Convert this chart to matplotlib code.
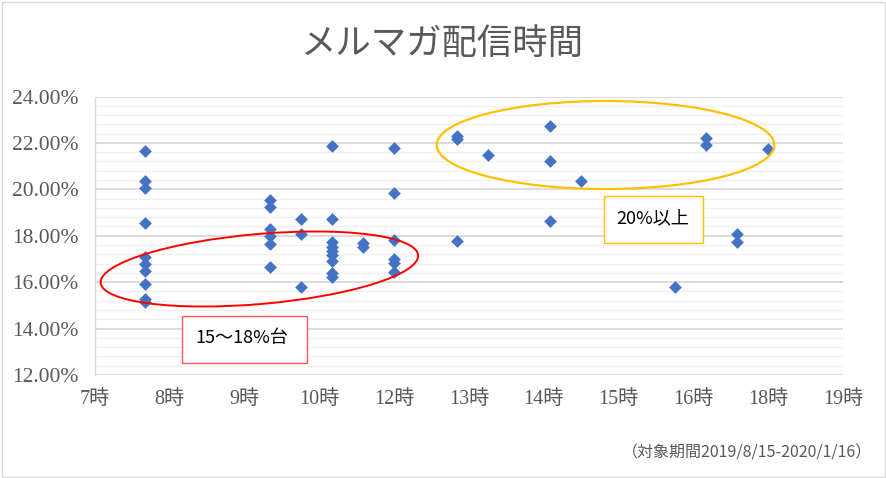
import matplotlib
matplotlib.use("Agg")
import matplotlib.pyplot as plt
from matplotlib.patches import Ellipse, Rectangle
from matplotlib.ticker import MultipleLocator, FuncFormatter, FixedLocator

plt.rcParams['font.family'] = ['Noto Sans CJK JP', 'DejaVu Sans']

title = "メルマガ配信時間"
footnote = "（対象期間2019/8/15-2020/1/16）"
note_low = "15～18%台"
note_high = "20%以上"

# x-axis tick positions (hours) and their labels as shown
tick_hours = [7.0, 8.2, 9.4, 10.6, 11.8, 13.0, 14.2, 15.4, 16.6, 17.8, 19.0]
tick_labels = ["7時", "8時", "9時", "10時", "12時", "13時", "14時", "15時", "16時", "18時", "19時"]

# delivery time (hours) and open rate (%)
send_hour = [7.8, 7.8, 7.8, 7.8, 7.8, 7.8, 7.8, 7.8, 7.8, 7.8,
             9.8, 9.8, 9.8, 9.8, 9.8, 9.8,
             10.3, 10.3, 10.3,
             10.8, 10.8, 10.8, 10.8, 10.8, 10.8, 10.8, 10.8, 10.8,
             11.3, 11.3,
             11.8, 11.8, 11.8, 11.8, 11.8, 11.8,
             12.8, 12.8, 12.8,
             13.3,
             14.3, 14.3, 14.3,
             14.8,
             16.3,
             16.8, 16.8,
             17.3, 17.3,
             17.8]
open_rate = [21.67, 20.37, 20.06, 18.57, 17.10, 16.78, 16.46, 15.90, 15.29, 15.16,
             19.52, 19.22, 18.29, 17.99, 17.63, 16.64,
             18.71, 18.07, 15.80,
             21.87, 18.72, 17.73, 17.51, 17.34, 17.15, 16.91, 16.38, 16.24,
             17.70, 17.50,
             21.79, 19.83, 17.81, 16.98, 16.82, 16.45,
             22.30, 22.18, 17.79,
             21.48,
             22.71, 21.22, 18.63,
             20.35,
             15.79,
             22.20, 21.91,
             18.07, 17.72,
             21.74]

W, H = 886, 478
fig = plt.figure(figsize=(W / 100, H / 100), dpi=100)

def px(x, y):
    return (x / 100.0, (H - y) / 100.0)

ax = fig.add_axes([95 / W, (H - 375) / H, (843 - 95) / W, (375 - 96.5) / H])
ax.set_xlim(7, 19)
ax.set_ylim(12, 24)

ax.yaxis.set_major_locator(MultipleLocator(2))
ax.yaxis.set_minor_locator(MultipleLocator(0.4))
ax.yaxis.set_major_formatter(FuncFormatter(lambda v, p: f"{v:.2f}%"))
ax.grid(which='minor', axis='y', color='#F0F0F0', lw=0.9, zorder=0)
ax.grid(which='major', axis='y', color='#D9D9D9', lw=1.3, zorder=0)
ax.set_axisbelow(True)

ax.xaxis.set_major_locator(FixedLocator(tick_hours))
ax.set_xticklabels(tick_labels)

for s in ['top', 'right', 'bottom']:
    ax.spines[s].set_visible(False)
ax.spines['left'].set_color('#D9D9D9')
ax.spines['left'].set_linewidth(1.0)

ax.tick_params(axis='both', which='both', length=0)
ax.tick_params(axis='y', pad=12, labelcolor='#595959')
ax.tick_params(axis='x', pad=11, labelcolor='#595959')
for lab in ax.get_yticklabels():
    lab.set_family(['Liberation Serif', 'Noto Sans CJK JP'])
    lab.set_fontsize(15.5)
for lab in ax.get_xticklabels():
    lab.set_family(['Liberation Serif', 'Noto Sans CJK JP'])
    lab.set_fontsize(14.5)

ax.scatter(send_hour, open_rate, marker='D', s=42, color='#4472C4', linewidths=0, zorder=3)

# title & footnote
fig.text(442 / W, (H - 45) / H, title, ha='center', va='center', fontsize=25.5, color='#595959')
fig.text(872 / W, (H - 453) / H, footnote, ha='right', va='center', fontsize=11.5, color='#595959')

# annotations (ellipses and boxes), in pixel space
t = fig.dpi_scale_trans
fig.patches.append(Ellipse(px(259.4, 269), 318.6 / 100, 70 / 100, angle=5.0,
                           fill=False, edgecolor='#FF0000', lw=1.4, transform=t, zorder=5))
fig.patches.append(Ellipse(px(605.5, 145), 337.6 / 100, 88 / 100, angle=0.0,
                           fill=False, edgecolor='#FFC000', lw=1.6, transform=t, zorder=5))

x0, y0 = px(182.3, 362.7)
fig.patches.append(Rectangle((x0, y0), 125 / 100, 46.7 / 100, fill=True, facecolor='white',
                             edgecolor='#FF5B5B', lw=1.0, transform=t, zorder=5))
x1, y1 = px(604.3, 243.3)
fig.patches.append(Rectangle((x1, y1), 99 / 100, 47 / 100, fill=True, facecolor='white',
                             edgecolor='#FFC000', lw=1.0, transform=t, zorder=5))
fig.text(195 / W, (H - 338) / H, note_low, ha='left', va='center', fontsize=13, color='#000000', zorder=6)
fig.text(616 / W, (H - 218) / H, note_high, ha='left', va='center', fontsize=13, color='#000000', zorder=6)

# outer chart border
fig.patches.append(Rectangle(px(1.5, 476.5), 883 / 100, 475 / 100, fill=False,
                             edgecolor='#D9D9D9', lw=1.0, transform=t, zorder=0))

fig.savefig("out.png", dpi=100)
